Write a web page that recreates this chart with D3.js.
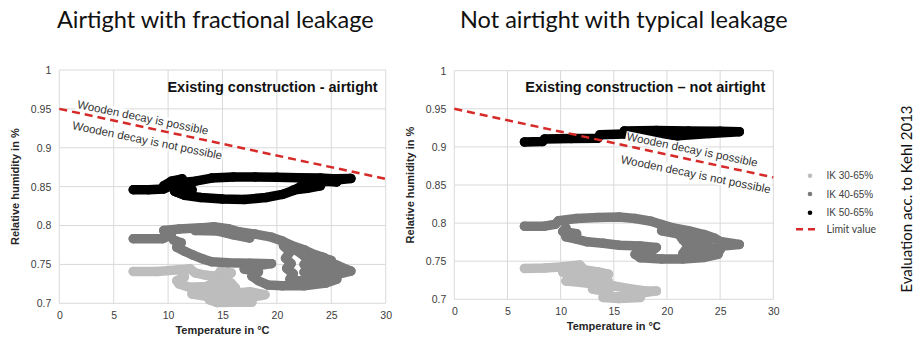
<!DOCTYPE html>
<html>
<head>
<meta charset="utf-8">
<script src="https://cdn.jsdelivr.net/npm/d3@7"></script>
<style>
  body { margin: 0; background: #fff; }
  svg { display: block; }
</style>
</head>
<body>
<svg id="chart" width="914" height="341"></svg>
<script>
// ---- data -------------------------------------------------------------
const temperatureTicks = [0, 5, 10, 15, 20, 25, 30];
const humidityTicks = [0.7, 0.75, 0.8, 0.85, 0.9, 0.95, 1];
const seriesLabels = ["IK 30-65%", "IK 40-65%", "IK 50-65%"];
const seriesColors = ["#bdbdbd", "#7a7a7a", "#000000"];
const limitLabel = "Limit value";
const limitValues = [[0, 0.95], [30, 0.86]];
const panelTitles = ["Airtight with fractional leakage", "Not airtight with typical leakage"];
const panelSubtitles = ["Existing construction - airtight", "Existing construction \u2013 not airtight"];
const zoneLabels = ["Wooden decay is possible", "Wooden decay is not possible"];
const sideNote = "Evaluation acc. to Kehl 2013";

// Hourly trajectories (temperature °C, relative humidity), split into runs - airtight case
const airtight30 = [
  [[6.8,0.741],[9.0,0.741],[11.0,0.743],[12.0,0.7445],[12.5,0.739],[13.5,0.736],[14.5,0.735],
   [14.8,0.741],[15.8,0.739],[15.3,0.733],[14.5,0.729],[13.5,0.7215],[12.0,0.7205],[11.0,0.725],
   [10.8,0.729],[11.5,0.734]],
  [[14.5,0.7235],[15.8,0.726],[16.2,0.7195],[15.0,0.715],[13.5,0.716],[12.2,0.712],[13.5,0.709],
   [15.5,0.712],[17.5,0.715],[18.9,0.711],[17.8,0.708],[16.5,0.7065],[17.7,0.7015],[16.0,0.7015],
   [14.5,0.701],[13.8,0.7045]]
];
const airtight40 = [
  [[6.8,0.783],[9.5,0.783],[10.3,0.788],[9.6,0.7935],[11.0,0.7955],[13.0,0.797],[14.2,0.7985],
   [15.5,0.796],[16.5,0.792],[18.0,0.789],[19.5,0.785],[20.5,0.780],[21.3,0.7745],[22.5,0.769],
   [23.2,0.764],[24.3,0.759],[24.7,0.754],[25.5,0.749],[26.8,0.7415],[25.5,0.737],[25.5,0.731],
   [24.5,0.726],[22.5,0.7225],[20.5,0.7225],[19.2,0.7235],[18.3,0.729],[17.7,0.735],[18.3,0.7405],
   [17.0,0.744],[18.5,0.749],[19.5,0.751],[17.5,0.7515],[15.5,0.752],[14.0,0.7535],[13.2,0.757],
   [12.3,0.762],[11.5,0.767],[10.8,0.772],[11.2,0.778],[10.5,0.7815]],
  [[20.6,0.774],[21.2,0.766],[20.8,0.758],[21.3,0.751],[20.9,0.745],[21.5,0.738],[21.2,0.731],
   [22.5,0.728],[23.5,0.733],[22.5,0.740],[23.8,0.744],[22.5,0.750],[23.5,0.756],[22.5,0.761],
   [21.8,0.768]],
  [[24.0,0.760],[25.0,0.755],[24.0,0.750],[25.0,0.744],[24.0,0.740],[25.0,0.733],[23.5,0.727]],
  [[12.5,0.7935],[14.5,0.793],[16.0,0.788],[17.5,0.784]]
];
const airtight50 = [
  [[6.8,0.846],[8.2,0.846],[9.6,0.847],[10.2,0.851],[11.0,0.855],[12.5,0.857],[14.0,0.861],
   [16.0,0.8625],[18.0,0.8625],[20.0,0.862],[22.0,0.8615],[24.0,0.861],[25.5,0.860],[26.8,0.8605],
   [25.0,0.858],[23.5,0.855],[22.3,0.851],[21.5,0.845],[20.5,0.840],[19.0,0.836],[17.0,0.8335],
   [15.0,0.834],[13.0,0.836],[11.5,0.839],[10.8,0.843]],
  [[9.6,0.851],[10.3,0.857],[11.3,0.860],[10.5,0.853],[11.5,0.849],[10.6,0.844],[11.6,0.839],
   [12.2,0.846],[11.8,0.855]],
  [[21.5,0.8455],[22.8,0.848],[24.0,0.851],[23.0,0.855],[24.5,0.857],[25.5,0.856]]
];

// Hourly trajectories - not airtight case
const notAirtight30 = [
  [[6.6,0.7405],[8.5,0.741],[10.0,0.7425],[11.8,0.745],[12.2,0.739],[13.5,0.736],[14.5,0.733],
   [13.0,0.731],[11.0,0.7285],[10.5,0.724],[12.0,0.722],[13.5,0.7195],[15.0,0.7175],[16.5,0.714],
   [18.0,0.711],[19.0,0.711],[17.5,0.708],[16.0,0.7055],[15.0,0.703],[14.0,0.7025],[15.5,0.701],
   [17.5,0.7025]],
  [[10.2,0.7355],[12.0,0.733],[14.0,0.7285],[12.5,0.726],[14.5,0.723],[13.0,0.7135],[14.5,0.7095]]
];
const notAirtight40 = [
  [[6.6,0.796],[8.5,0.796],[9.5,0.7985],[9.8,0.803],[11.5,0.806],[13.5,0.8075],[15.5,0.808],
   [17.0,0.806],[18.5,0.8025],[19.5,0.798],[20.5,0.794],[22.0,0.790],[23.5,0.785],[24.5,0.780],
   [25.0,0.776],[26.8,0.772],[25.0,0.7695],[24.0,0.765],[24.8,0.759],[23.5,0.755],[21.5,0.753],
   [19.5,0.753],[17.5,0.7545],[17.0,0.759],[18.5,0.7625],[19.0,0.768],[17.5,0.770],[15.5,0.771],
   [14.0,0.7735],[12.5,0.7755],[11.5,0.779],[10.5,0.782],[11.5,0.786],[10.2,0.789],[10.5,0.7935]],
  [[19.5,0.790],[21.0,0.786],[22.5,0.781],[21.5,0.778],[23.0,0.775],[24.0,0.770],[22.5,0.767],
   [23.5,0.762],[25.0,0.765],[24.2,0.7585],[22.5,0.756],[21.5,0.760],[22.0,0.770],[21.3,0.782]]
];
const notAirtight50 = [
  [[6.6,0.9065],[8.3,0.9070],[8.5,0.9105],[11.0,0.9110],[13.5,0.9115],[13.7,0.9160],[16.0,0.9170]],
  [[16.0,0.9210],[19.0,0.9215],[22.0,0.9210],[25.0,0.9205],[26.8,0.9200],[24.0,0.9175],[21.0,0.9145],
   [19.0,0.9175],[17.0,0.9190]]
];

// ---- layout -----------------------------------------------------------
const panels = [
  {
    title: panelTitles[0], subtitle: panelSubtitles[0],
    series: [airtight30, airtight40, airtight50],
    plot: { left: 59.3, right: 385.7, top: 70, bottom: 303.3 },
    titleX: 57,
    labelAt: [[1.6, 0.951], [1.15, 0.924]]
  },
  {
    title: panelTitles[1], subtitle: panelSubtitles[1],
    series: [notAirtight30, notAirtight40, notAirtight50],
    plot: { left: 454.3, right: 773.3, top: 70.7, bottom: 299.3 },
    titleX: 460,
    labelAt: [[16.15, 0.909], [15.6, 0.879]]
  }
];

const svg = d3.select("#chart");
const axisFont = "Arial, 'Liberation Sans', sans-serif";
const textFont = "Lato, 'Open Sans', sans-serif";

panels.forEach(p => {
  const x = d3.scaleLinear().domain([0, 30]).range([p.plot.left, p.plot.right]);
  const y = d3.scaleLinear().domain([0.7, 1]).range([p.plot.bottom, p.plot.top]);
  const g = svg.append("g");

  // panel heading
  svg.append("text")
    .attr("x", p.titleX).attr("y", 28)
    .attr("font-family", textFont).attr("font-size", 23.5)
    .attr("fill", "#111")
    .text(p.title);

  // grid
  g.append("g").selectAll("line").data(temperatureTicks).join("line")
    .attr("x1", d => x(d)).attr("x2", d => x(d))
    .attr("y1", y(1)).attr("y2", y(0.7))
    .attr("stroke", "#d9d9d9").attr("stroke-width", 1);
  g.append("g").selectAll("line").data(humidityTicks).join("line")
    .attr("x1", x(0)).attr("x2", x(30))
    .attr("y1", d => y(d)).attr("y2", d => y(d))
    .attr("stroke", "#d9d9d9").attr("stroke-width", 1);

  // axes (labels only, lines come from the grid)
  const xAxis = d3.axisBottom(x).tickValues(temperatureTicks).tickSize(0).tickPadding(8).tickFormat(d3.format("d"));
  const yAxis = d3.axisLeft(y).tickValues(humidityTicks).tickSize(0).tickPadding(8).tickFormat(d => String(+d.toFixed(2)));
  const ax = g.append("g").attr("transform", `translate(0,${y(0.7)})`).call(xAxis);
  const ay = g.append("g").attr("transform", `translate(${x(0)},0)`).call(yAxis);
  [ax, ay].forEach(a => {
    a.select(".domain").remove();
    a.selectAll("text").attr("font-family", axisFont).attr("font-size", 10.5).attr("fill", "#404040");
  });

  // axis titles
  g.append("text")
    .attr("x", (x(0) + x(30)) / 2).attr("y", y(0.7) + 31)
    .attr("text-anchor", "middle")
    .attr("font-family", axisFont).attr("font-size", 11).attr("font-weight", "bold").attr("fill", "#262626")
    .text("Temperature in \u00b0C");
  g.append("text")
    .attr("transform", `translate(${x(0) - 40},${(y(0.7) + y(1)) / 2}) rotate(-90)`)
    .attr("text-anchor", "middle")
    .attr("font-family", axisFont).attr("font-size", 11).attr("font-weight", "bold").attr("fill", "#262626")
    .text("Relative humidity in %");

  // measured trajectories
  const line = d3.line().x(d => x(d[0])).y(d => y(d[1]));
  p.series.forEach((runs, i) => {
    const sg = g.append("g");
    runs.forEach(run => {
      sg.append("path").datum(run)
        .attr("d", line)
        .attr("fill", "none").attr("stroke", seriesColors[i])
        .attr("stroke-width", 9.5).attr("stroke-linejoin", "round").attr("stroke-linecap", "round");
      sg.append("g").selectAll("circle").data(run).join("circle")
        .attr("cx", d => x(d[0])).attr("cy", d => y(d[1])).attr("r", 4.75)
        .attr("fill", seriesColors[i]);
    });
  });

  // zone labels along the limit line
  const ang = Math.atan2(y(limitValues[1][1]) - y(limitValues[0][1]), x(limitValues[1][0]) - x(limitValues[0][0])) * 180 / Math.PI;
  zoneLabels.forEach((lbl, i) => {
    const [t, rh] = p.labelAt[i];
    const lg = g.append("g").attr("transform", `translate(${x(t)},${y(rh)}) rotate(${ang - 0.6})`);
    const bg = lg.append("rect").attr("fill", "#fff");
    const tx = lg.append("text")
      .attr("font-family", axisFont).attr("font-size", 11.5).attr("fill", "#333")
      .text(lbl);
    const b = tx.node().getBBox();
    bg.attr("x", b.x - 1).attr("y", b.y + 1).attr("width", b.width + 2).attr("height", b.height - 1);
  });

  // limit line
  g.append("path").datum(limitValues)
    .attr("d", line)
    .attr("fill", "none").attr("stroke", "#d62a28").attr("stroke-width", 2.5)
    .attr("stroke-dasharray", "8,5");

  // inner heading
  g.append("text")
    .attr("x", x(30) - 8).attr("y", y(1) + 21.5)
    .attr("text-anchor", "end")
    .attr("font-family", axisFont).attr("font-size", 14.5).attr("font-weight", "bold").attr("fill", "#111")
    .text(p.subtitle);
});

// ---- legend -----------------------------------------------------------
const legend = svg.append("g").attr("transform", "translate(810,0)");
const legendY = [175.7, 194, 212.7, 229.3];
seriesLabels.forEach((lbl, i) => {
  legend.append("circle").attr("cx", 0).attr("cy", legendY[i]).attr("r", 2.3).attr("fill", seriesColors[i]);
  legend.append("text").attr("x", 16.5).attr("y", legendY[i] + 3.5)
    .attr("font-family", axisFont).attr("font-size", 10).attr("fill", "#404040").text(lbl);
});
legend.append("line").attr("x1", -14).attr("x2", 5).attr("y1", legendY[3]).attr("y2", legendY[3])
  .attr("stroke", "#d62a28").attr("stroke-width", 2.5).attr("stroke-dasharray", "7,5");
legend.append("text").attr("x", 16.5).attr("y", legendY[3] + 3.5)
  .attr("font-family", textFont).attr("font-size", 10.5).attr("fill", "#404040").text(limitLabel);

// side note
svg.append("text")
  .attr("transform", "translate(912,199) rotate(-90)")
  .attr("text-anchor", "middle")
  .attr("font-family", textFont).attr("font-size", 15).attr("fill", "#111")
  .text(sideNote);
</script>
</body>
</html>
